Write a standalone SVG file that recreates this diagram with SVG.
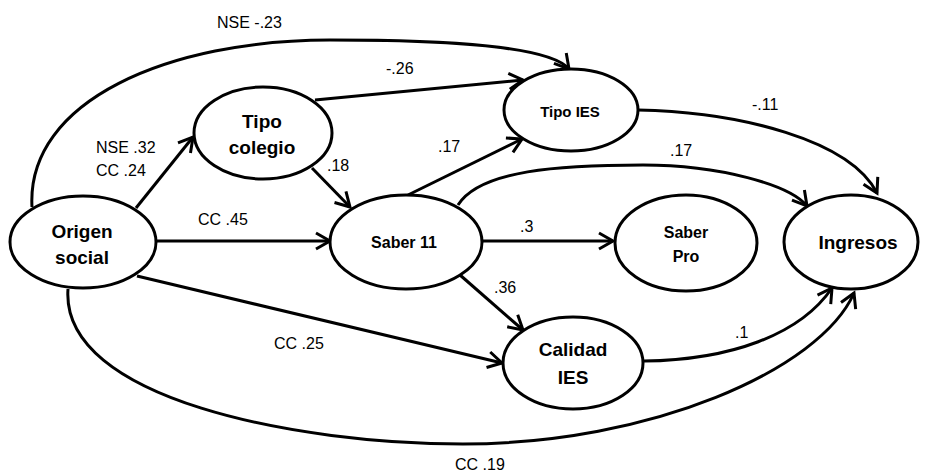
<svg xmlns="http://www.w3.org/2000/svg" width="926" height="476" viewBox="0 0 926 476">
<style>
.node ellipse{fill:#fff;stroke:#000;stroke-width:3}
.nl{font-family:"Liberation Sans",Arial,sans-serif;font-weight:bold;text-anchor:middle;fill:#000}
.el{font-family:"Liberation Sans",Arial,sans-serif;font-size:16px;fill:#000}
.edges path{fill:none;stroke:#000;stroke-width:3;marker-end:url(#ah)}
</style>
<defs>
<marker id="ah" markerUnits="userSpaceOnUse" markerWidth="20" markerHeight="20" viewBox="0 0 20 20" refX="16" refY="10" orient="auto">
<path d="M2,2 L16,10 L2,18" fill="none" stroke="#000" stroke-width="3" stroke-linejoin="miter"/>
</marker>
</defs>
<rect width="926" height="476" fill="#fff"/>
<g class="edges" id="connectors">
<path d="M136,208 L193,137"/>
<path d="M156,241 L330,241"/>
<path d="M312,168 L350,207"/>
<path d="M315,100 L523,80"/>
<path d="M32,207 C26,100 170,40 330,40 C450,40 550,46 569,69"/>
<path d="M408,195 L522,139"/>
<path d="M458,205 C480,170 560,165 643,165 C720,165 790,185 807,206"/>
<path d="M638,110 C740,112 850,140 877,193"/>
<path d="M482,241 L613,241"/>
<path d="M460,275 L523,330"/>
<path d="M137,276 L502,363"/>
<path d="M644,361 C730,360 800,335 832,288"/>
<path d="M68,289 C60,400 300,444 463,444 C650,444 820,370 854,293"/>
</g>
<g id="origen" class="node"><ellipse cx="83" cy="242" rx="73" ry="46"/><text class="nl" x="82" y="238" font-size="19">Origen</text><text class="nl" x="82" y="264" font-size="19">social</text></g>
<g id="tipocolegio" class="node"><ellipse cx="263" cy="133" rx="69" ry="46"/><text class="nl" x="262" y="128" font-size="19">Tipo</text><text class="nl" x="262" y="154" font-size="19">colegio</text></g>
<g id="saber11" class="node"><ellipse cx="406" cy="242" rx="76" ry="47"/><text class="nl" x="404" y="248" font-size="16">Saber 11</text></g>
<g id="tipoies" class="node"><ellipse cx="571" cy="110" rx="67" ry="41"/><text class="nl" x="570" y="117" font-size="15">Tipo IES</text></g>
<g id="saberpro" class="node"><ellipse cx="686" cy="243" rx="71" ry="48"/><text class="nl" x="686" y="238" font-size="16">Saber</text><text class="nl" x="686" y="262" font-size="16">Pro</text></g>
<g id="ingresos" class="node"><ellipse cx="851" cy="242" rx="67" ry="47"/><text class="nl" x="858" y="249" font-size="19">Ingresos</text></g>
<g id="calidadies" class="node"><ellipse cx="573" cy="363" rx="70" ry="46"/><text class="nl" x="573" y="356" font-size="19">Calidad</text><text class="nl" x="573" y="384" font-size="19">IES</text></g>
<g id="labels">
<text class="el" x="217" y="28">NSE -.23</text>
<text class="el" x="386" y="74">-.26</text>
<text class="el" x="96" y="153">NSE .32</text>
<text class="el" x="96" y="176">CC .24</text>
<text class="el" x="327" y="171">.18</text>
<text class="el" x="438" y="152">.17</text>
<text class="el" x="198" y="225">CC .45</text>
<text class="el" x="752" y="110">-.11</text>
<text class="el" x="670" y="156">.17</text>
<text class="el" x="520" y="232">.3</text>
<text class="el" x="494" y="293">.36</text>
<text class="el" x="735" y="338">.1</text>
<text class="el" x="274" y="349">CC .25</text>
<text class="el" x="455" y="470">CC .19</text>
</g>
</svg>
